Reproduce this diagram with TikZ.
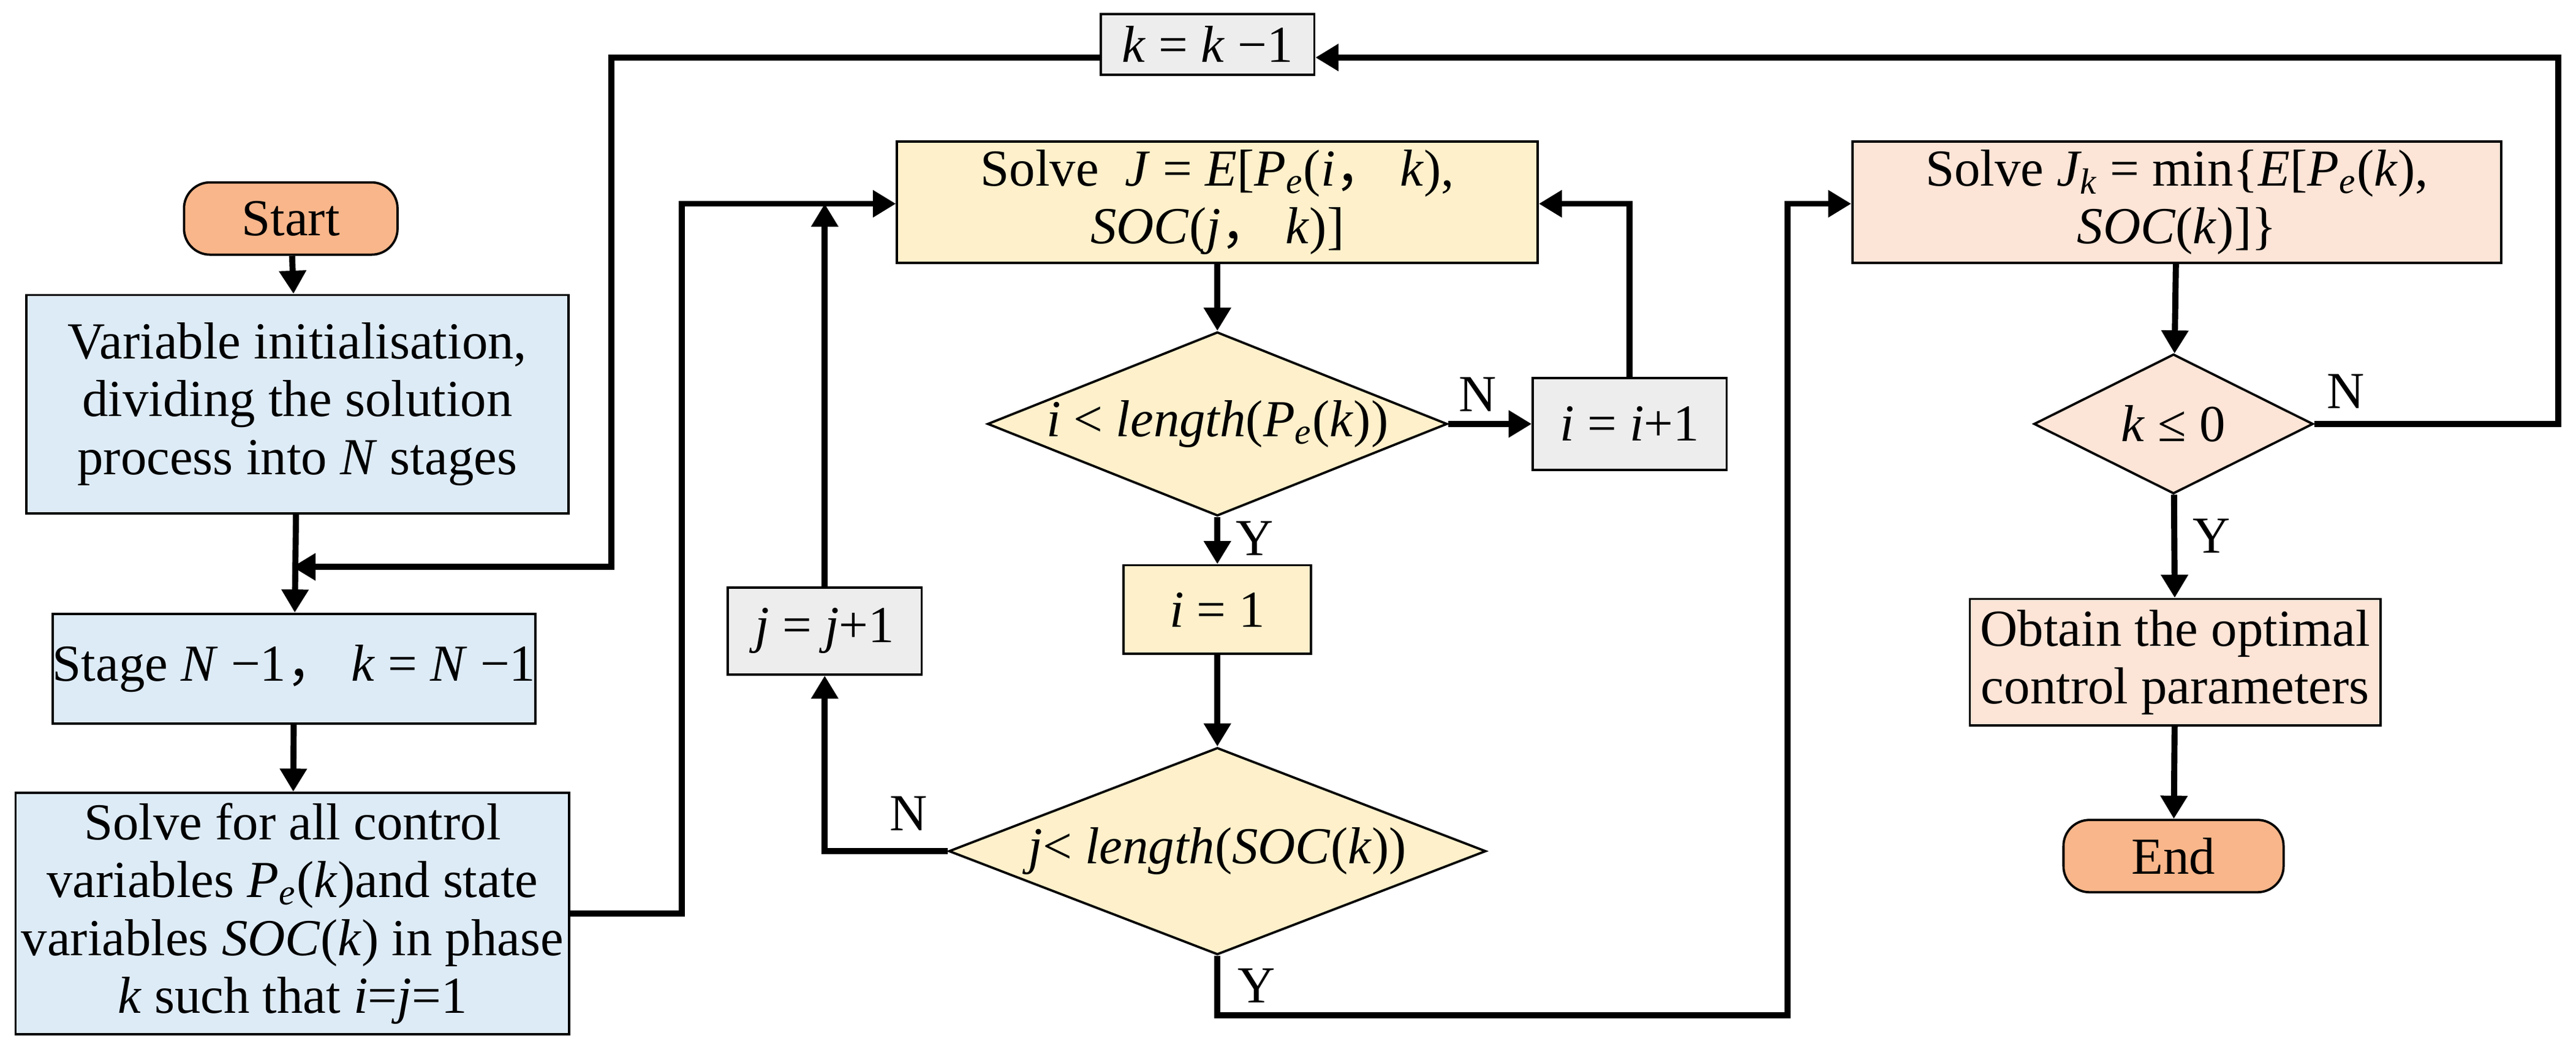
\documentclass[tikz,border=0pt]{standalone}
\usepackage{fontspec}
\setmainfont{Liberation Serif}
\newfontfamily\cjk{Noto Sans CJK SC}
\newcommand{\fc}{{\cjk ，}}
\usetikzlibrary{shapes.geometric,arrows.meta}
\definecolor{cor}{HTML}{F8B68A}
\definecolor{cbl}{HTML}{DDEBF7}
\definecolor{cye}{HTML}{FDF0CA}
\definecolor{cgr}{HTML}{EDEDED}
\definecolor{cpk}{HTML}{FCE4D6}
\begin{document}
\begin{tikzpicture}[x=0.02cm,y=-0.02cm,font=\fontsize{18}{20}\selectfont,
 bx/.style={draw,line width=0.8pt,align=center,inner sep=0pt},
 term/.style={bx,rounded corners=9pt,fill=cor,minimum width=2.6cm,minimum height=0.88cm},
 dia/.style={draw,line width=0.8pt,diamond,aspect=2.5,inner sep=0pt,align=center},
 ln/.style={line width=2.1pt,-{Triangle[length=8pt,width=9pt]}}]
\useasboundingbox (0,0) rectangle (1568,645);
\node[term] (start) at (177,133) {Start};
\node[bx,fill=cbl,minimum width=6.6cm,minimum height=2.66cm] (init) at (181,246) {Variable initialisation,\\dividing the solution\\process into \textit{N} stages};
\node[bx,fill=cbl,minimum width=5.48cm,minimum height=1.34cm] (stage) at (179,407) {Stage \textit{N} −1\fc\ \textit{k} = \textit{N} −1};
\node[bx,fill=cbl,minimum width=6.74cm,minimum height=2.94cm] (solveall) at (178,556) {Solve for all control\\variables \textit{P\textsubscript{e}}(\textit{k})and state\\variables \textit{SOC}(\textit{k}) in phase\\\textit{k} such that \textit{i}=\textit{j}=1};
\node[bx,fill=cye,minimum width=7.8cm,minimum height=1.48cm] (solveJ) at (741,123) {Solve \ \textit{J} = \textit{E}[\textit{P\textsubscript{e}}(\textit{i}\fc\ \textit{k}),\\\textit{SOC}(\textit{j}\fc\ \textit{k})]};
\node[dia,fill=cye,minimum width=5.56cm,minimum height=2.2cm] (d1) at (741,258) {\textit{i} < \textit{length}(\textit{P\textsubscript{e}}(\textit{k}))};
\node[bx,fill=cgr,minimum width=2.36cm,minimum height=1.12cm] (ii) at (992,258) {\textit{i} = \textit{i}+1};
\node[bx,fill=cye,minimum width=2.28cm,minimum height=1.08cm] (i1) at (741,371) {\textit{i} = 1};
\node[dia,fill=cye,minimum width=6.54cm,minimum height=2.52cm] (d2) at (741,518) {\textit{j}< \textit{length}(\textit{SOC}(\textit{k}))};
\node[bx,fill=cgr,minimum width=2.36cm,minimum height=1.06cm] (jj) at (502,384) {\textit{j} = \textit{j}+1};
\node[bx,fill=cgr,minimum width=2.6cm,minimum height=0.74cm] (kk) at (735,27) {\textit{k} = \textit{k} −1};
\node[bx,fill=cpk,minimum width=7.9cm,minimum height=1.48cm] (solveK) at (1325,123) {Solve \textit{J\textsubscript{k}} = min\{\textit{E}[\textit{P\textsubscript{e}}(\textit{k}),\\\textit{SOC}(\textit{k})]\}};
\node[dia,fill=cpk,minimum width=3.4cm,minimum height=1.7cm] (d3) at (1323,258) {\textit{k} ≤ 0};
\node[bx,fill=cpk,minimum width=5cm,minimum height=1.54cm] (opt) at (1324,403) {Obtain the optimal\\control parameters};
\node[term,minimum width=2.68cm] (end) at (1323,521) {End};
\coordinate (m1) at (178,345);
\coordinate (a1) at (372,35);
\coordinate (a2) at (372,345);
\coordinate (r1) at (1557,258);
\coordinate (r2) at (1557,35);
\draw[ln] (start) -- (init);
\draw[ln] (init) -- (stage);
\draw[ln] (stage) -- (solveall);
\draw[ln] (solveJ) -- (d1);
\draw[ln] (d1) -- (ii) node[pos=0.35,above] {N};
\draw[ln] (d1) -- (i1) node[pos=0.45,right=2pt] {Y};
\draw[ln] (i1) -- (d2);
\draw[ln] (solveK) -- (d3);
\draw[ln] (d3) -- (opt) node[pos=0.4,right=2pt] {Y};
\draw[ln] (opt) -- (end);
\draw[ln] (d3.east) -- (r1) -- (r2) -- (kk.east |- r2);
\node at (1428,238) {N};
\draw[ln] (kk.west |- a1) -- (a1) -- (a2) -- (m1);
\draw[ln] (solveall.east) -- (415,556) -- (415,124) -- (solveJ.west |- 0,124);
\draw[ln] (jj.north) -- (502,124);
\draw[ln] (ii.north) -- (992,124) -- (solveJ.east |- 0,124);
\draw[ln] (d2.west) -- (502,518) -- (jj.south);
\node at (553,495) {N};
\draw[ln] (d2.south) -- (741,618) -- (1088,618) -- (1088,124) -- (solveK.west |- 0,124);
\node at (765,600) {Y};
\end{tikzpicture}
\end{document}
